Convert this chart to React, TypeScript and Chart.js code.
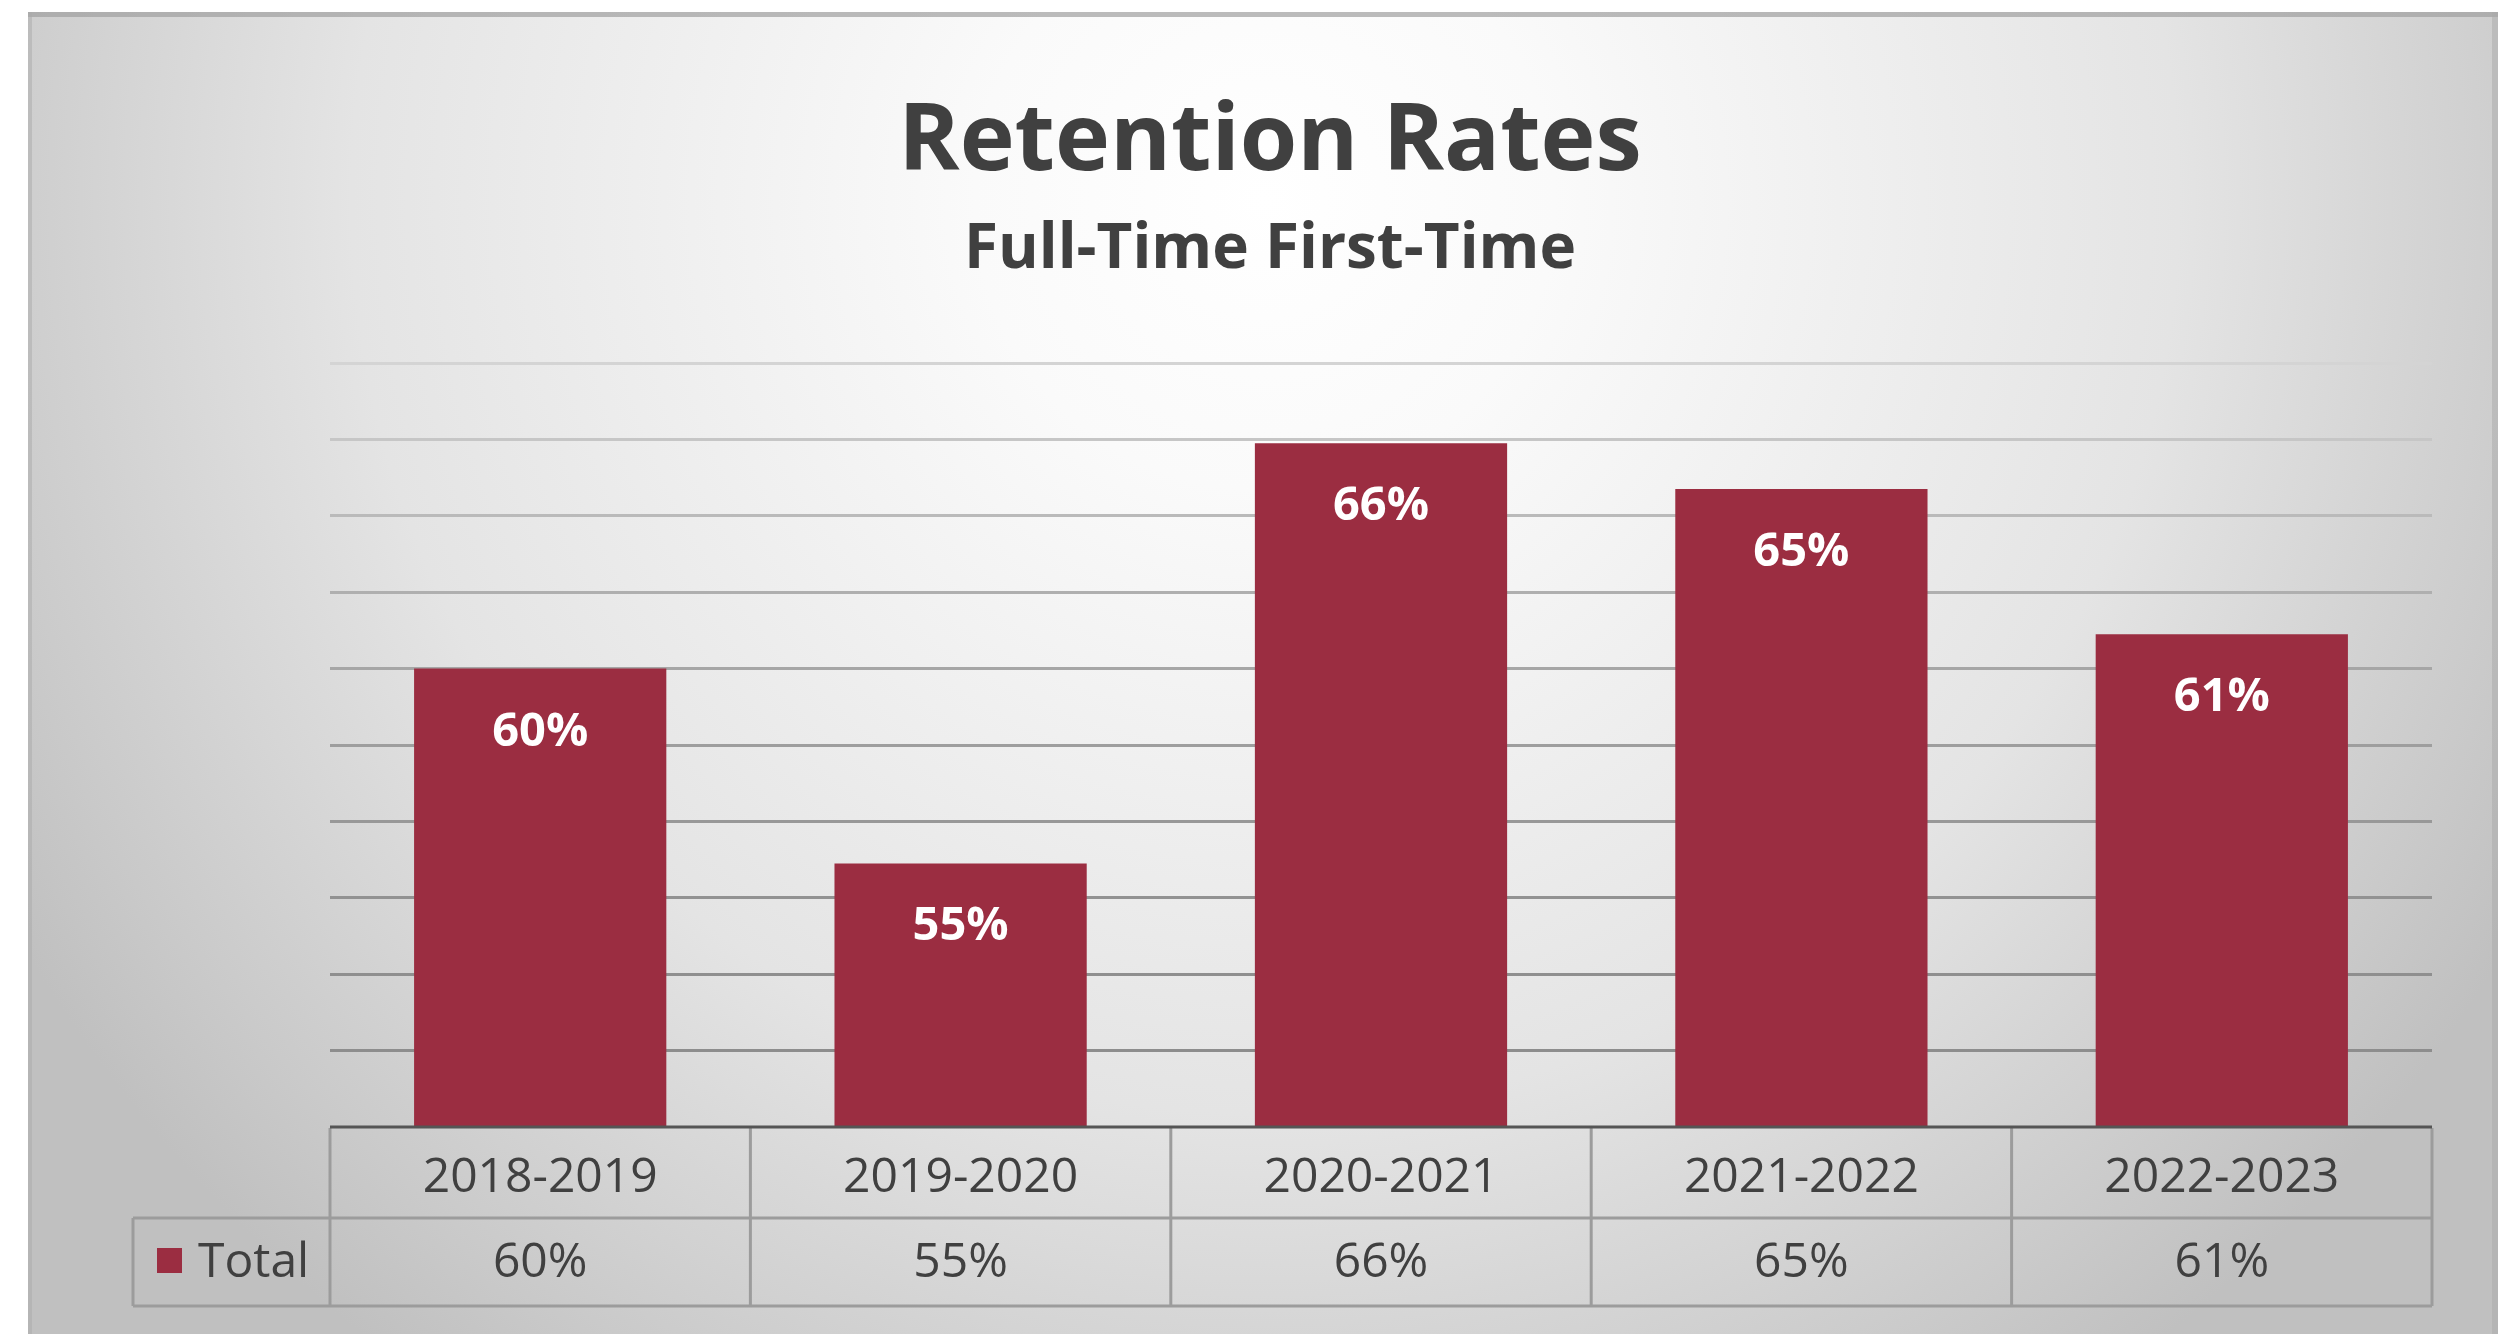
import React, { useEffect, useRef } from "react";
import { Chart, registerables } from "chart.js";

Chart.register(...registerables);

// ---- Data ----
const categories = ["2018-2019", "2019-2020", "2020-2021", "2021-2022", "2022-2023"];
const totalValues = [60.0, 54.9, 65.9, 64.7, 60.9];
const seriesName = "Total";
const titleText = "Retention Rates";
const subtitleText = "Full-Time First-Time";
const yMin = 48;
const yMax = 68;
const yStep = 2;

// ---- Style ----
const BAR_COLOR = "#9B2D41";
const TEXT_COLOR = "#404040";
const FONT = "'Open Sans', 'Noto Sans', sans-serif";
const fmt = (v: number) => `${Math.round(v)}%`;

const W = 2519;
const H = 1334;

function mixGray(a: number, b: number, t: number) {
  const v = Math.round(a + (b - a) * t);
  return `rgb(${v},${v},${v})`;
}

const decorPlugin = {
  id: "decor",
  beforeDraw(chart: any) {
    const ctx = chart.ctx;
    ctx.save();
    ctx.fillStyle = "#ffffff";
    ctx.fillRect(0, 0, chart.width, chart.height);
    const cx = 1265;
    const cy = 200;
    const g = ctx.createRadialGradient(cx, cy, 0, cx, cy, 1450);
    g.addColorStop(0, "#ffffff");
    g.addColorStop(0.2, "#fafafa");
    g.addColorStop(0.63, "#e4e4e4");
    g.addColorStop(0.9, "#cacaca");
    g.addColorStop(1, "#c0c0c0");
    ctx.fillStyle = g;
    ctx.fillRect(28, 12, 2470, chart.height - 12);
    // top edge shadow
    ctx.fillStyle = "rgba(160,160,160,0.7)";
    ctx.fillRect(28, 12, 2470, 5);
    // side edges
    ctx.fillStyle = "rgba(170,170,170,0.5)";
    ctx.fillRect(28, 12, 4, chart.height - 12);
    ctx.fillRect(2492, 12, 6, chart.height - 12);
    ctx.restore();
  },
  afterDraw(chart: any) {
    const ctx = chart.ctx;
    const area = chart.chartArea;
    const xs = chart.scales.x;
    const n = categories.length;
    const cw = (area.right - area.left) / n;

    ctx.save();
    // Title and subtitle
    ctx.fillStyle = TEXT_COLOR;
    ctx.textAlign = "center";
    ctx.textBaseline = "alphabetic";
    ctx.font = `bold 93px ${FONT}`;
    ctx.fillText(titleText, 1270, 170);
    ctx.font = `bold 62px ${FONT}`;
    ctx.fillText(subtitleText, 1270, 268);

    // Data labels inside bars
    const meta = chart.getDatasetMeta(0);
    ctx.fillStyle = "#ffffff";
    ctx.font = `bold 47px ${FONT}`;
    meta.data.forEach((bar: any, i: number) => {
      ctx.fillText(fmt(totalValues[i]), bar.x, bar.y + 77);
    });

    // Data table
    const rowTop = area.bottom;
    const rowMid = area.bottom + 91;
    const rowBot = area.bottom + 179;
    const legendLeft = 133;
    ctx.strokeStyle = "#9c9c9c";
    ctx.lineWidth = 3;
    const line = (x1: number, y1: number, x2: number, y2: number) => {
      ctx.beginPath();
      ctx.moveTo(x1, y1);
      ctx.lineTo(x2, y2);
      ctx.stroke();
    };
    line(legendLeft, rowMid, area.right, rowMid);
    line(legendLeft, rowBot, area.right, rowBot);
    line(legendLeft, rowMid, legendLeft, rowBot);
    for (let i = 0; i <= n; i++) {
      const x = i < n ? xs.getPixelForValue(i) - cw / 2 : xs.getPixelForValue(n - 1) + cw / 2;
      line(x, rowTop + 1, x, rowBot);
    }

    // Baseline (x axis line)
    ctx.strokeStyle = "#555555";
    ctx.lineWidth = 3;
    line(area.left, area.bottom, area.right, area.bottom);

    // Table text
    ctx.fillStyle = TEXT_COLOR;
    ctx.font = `48px ${FONT}`;
    ctx.textAlign = "center";
    categories.forEach((c, i) => {
      const x = xs.getPixelForValue(i);
      ctx.fillText(c, x, rowTop + 65);
      ctx.fillText(fmt(totalValues[i]), x, rowTop + 150);
    });

    // Legend key
    ctx.fillStyle = BAR_COLOR;
    ctx.fillRect(157, rowMid + 30, 25, 25);
    ctx.fillStyle = TEXT_COLOR;
    ctx.textAlign = "left";
    ctx.fillText(seriesName, 198, rowTop + 150);
    ctx.restore();
  },
};

export default function App() {
  const canvasRef = useRef<HTMLCanvasElement | null>(null);

  useEffect(() => {
    document.body.style.margin = "0";
    const canvas = canvasRef.current;
    if (!canvas) return;
    const chart = new Chart(canvas, {
      type: "bar",
      data: {
        labels: categories,
        datasets: [
          {
            label: seriesName,
            data: totalValues,
            backgroundColor: BAR_COLOR,
            borderWidth: 0,
            barPercentage: 0.6,
            categoryPercentage: 1.0,
          },
        ],
      },
      options: {
        responsive: false,
        animation: false,
        devicePixelRatio: 1,
        layout: {
          padding: { left: 330, right: W - 2432, top: 363, bottom: H - 1127 },
        },
        plugins: {
          legend: { display: false },
          title: { display: false },
          tooltip: { enabled: false },
        },
        scales: {
          x: {
            type: "category",
            grid: { display: false, drawTicks: false },
            border: { display: false },
            ticks: { display: false },
            afterFit: (s: any) => {
              s.height = 0;
            },
          },
          y: {
            type: "linear",
            min: yMin,
            max: yMax,
            ticks: { display: false, stepSize: yStep },
            border: { display: false },
            grid: {
              drawTicks: false,
              lineWidth: 3,
              color: (c: any) => {
                const total = (yMax - yMin) / yStep;
                const t = (c.index ?? 0) / total;
                if (c.index === 0) return "rgba(0,0,0,0)";
                return mixGray(140, 212, t * t);
              },
            },
            afterFit: (s: any) => {
              s.width = 0;
            },
          },
        },
      },
      plugins: [decorPlugin],
    });
    return () => chart.destroy();
  }, []);

  return (
    <div style={{ width: W, height: H }}>
      <canvas ref={canvasRef} width={W} height={H} style={{ display: "block", width: W, height: H }} />
    </div>
  );
}
